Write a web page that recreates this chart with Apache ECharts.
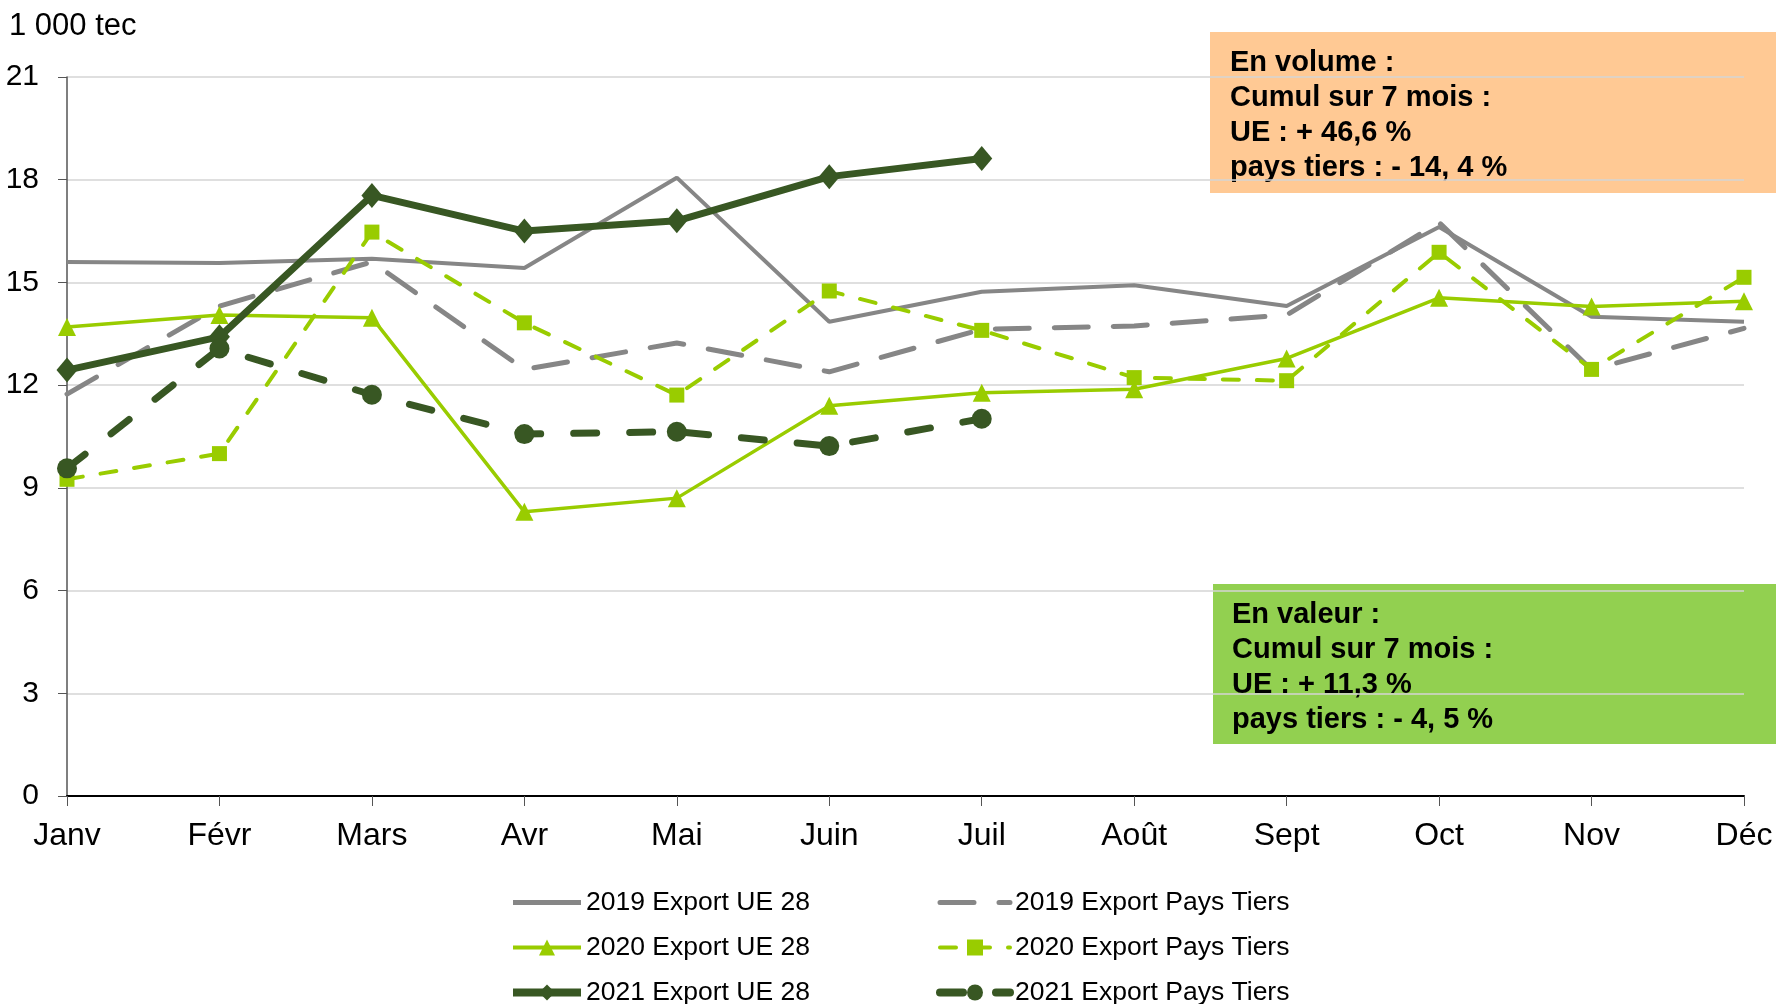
<!DOCTYPE html>
<html>
<head>
<meta charset="utf-8">
<title>Exports</title>
<script src="https://cdn.jsdelivr.net/npm/echarts/dist/echarts.min.js"></script>
<style>
  html, body { margin: 0; padding: 0; background: #fff; }
  #chart { width: 1776px; height: 1004px; }
</style>
</head>
<body>
<div id="chart"></div>
<script>
// months on the x axis
const months = ['Janv', 'Févr', 'Mars', 'Avr', 'Mai', 'Juin', 'Juil', 'Août', 'Sept', 'Oct', 'Nov', 'Déc']

// values in 1 000 tec
const ue2019 = [15.6, 15.57, 15.69, 15.42, 18.06, 13.85, 14.73, 14.92, 14.31, 16.62, 14.0, 13.85]
const pt2019 = [11.74, 14.31, 15.6, 12.46, 13.23, 12.39, 13.63, 13.73, 14.05, 16.75, 12.45, 13.66]
const ue2020 = [13.7, 14.05, 13.97, 8.3, 8.7, 11.4, 11.78, 11.88, 12.78, 14.55, 14.3, 14.45]
const pt2020 = [9.25, 10.0, 16.47, 13.82, 11.71, 14.75, 13.6, 12.22, 12.13, 15.88, 12.46, 15.15]
const ue2021 = [12.44, 13.41, 17.54, 16.5, 16.8, 18.09, 18.62, null, null, null, null, null]
const pt2021 = [9.57, 13.07, 11.72, 10.57, 10.64, 10.22, 11.02, null, null, null, null, null]

const yTicks = { min: 0, max: 21, interval: 3 }

const volumeLines = ['En volume :', 'Cumul sur 7 mois :', 'UE : + 46,6 %', 'pays tiers : - 14, 4 %']
const valueLines = ['En valeur :', 'Cumul sur 7 mois :', 'UE : + 11,3 %', 'pays tiers : - 4, 5 %']

const GREY = '#868686'
const LIGHT = '#99CC00'
const DARK = '#385723'
const FONT = 'Liberation Sans, Arial, sans-serif'

const chart = echarts.init(document.getElementById('chart'))

const legendText = { fontSize: 26.5, color: '#000', fontFamily: FONT }
// thicker legend lines, and no marker for the 2019 lines
const legendItem = (name, width, noSymbol) => ({
  name: name,
  lineStyle: { width: width },
  itemStyle: noSymbol ? { opacity: 0 } : {}
})

const option = {
  animation: false,
  textStyle: { fontFamily: FONT, color: '#000' },
  grid: { left: 67, right: 32, top: 77, bottom: 208, containLabel: false, outerBoundsMode: 'none' },
  legend: [
    {
      orient: 'vertical',
      left: 504,
      top: 884,
      height: 200,
      itemWidth: 68,
      itemHeight: 20,
      itemGap: 18,
      textStyle: legendText,
      data: [
        legendItem('2019 Export UE 28', 5, true),
        legendItem('2020 Export UE 28', 4),
        legendItem('2021 Export UE 28', 8)
      ]
    },
    {
      orient: 'vertical',
      left: 931,
      top: 884,
      height: 200,
      itemWidth: 70,
      itemHeight: 20,
      itemGap: 18,
      textStyle: legendText,
      data: [
        legendItem('2019 Export Pays Tiers', 5, true),
        legendItem('2020 Export Pays Tiers', 4),
        legendItem('2021 Export Pays Tiers', 8)
      ]
    }
  ],
  xAxis: {
    type: 'category',
    data: months,
    boundaryGap: false,
    axisLine: { lineStyle: { color: '#000', width: 2 } },
    axisTick: { show: true, length: 10, lineStyle: { color: '#555' } },
    axisLabel: { fontSize: 32, color: '#000', margin: 24, interval: 0 },
    splitLine: { show: false }
  },
  yAxis: {
    type: 'value',
    min: yTicks.min,
    max: yTicks.max,
    interval: yTicks.interval,
    name: '1 000 tec',
    nameLocation: 'end',
    nameGap: 35,
    nameTextStyle: { fontSize: 31, color: '#000', align: 'left', padding: [0, 0, 0, -58] },
    axisLine: { show: true, lineStyle: { color: '#555', width: 1.5 } },
    axisTick: { show: true, length: 9, lineStyle: { color: '#555' } },
    axisLabel: { fontSize: 30, color: '#000', margin: 28 },
    splitLine: { lineStyle: { color: '#D4D4D4', width: 1.5 } }
  },
  series: [
    {
      name: '2019 Export UE 28',
      type: 'line',
      data: ue2019,
      symbol: 'none',
      lineStyle: { color: GREY, width: 4 },
      itemStyle: { color: GREY }
    },
    {
      name: '2019 Export Pays Tiers',
      type: 'line',
      data: pt2019,
      symbol: 'none',
      lineStyle: { color: GREY, width: 5, type: [34, 25], cap: 'round' },
      itemStyle: { color: GREY }
    },
    {
      name: '2020 Export UE 28',
      type: 'line',
      data: ue2020,
      symbol: 'triangle',
      symbolSize: 18,
      lineStyle: { color: LIGHT, width: 3.5 },
      itemStyle: { color: LIGHT }
    },
    {
      name: '2020 Export Pays Tiers',
      type: 'line',
      data: pt2020,
      symbol: 'rect',
      symbolSize: 15,
      lineStyle: { color: LIGHT, width: 4, type: [16, 18], cap: 'round' },
      itemStyle: { color: LIGHT }
    },
    {
      name: '2021 Export UE 28',
      type: 'line',
      data: ue2021,
      symbol: 'diamond',
      symbolSize: [21, 25],
      lineStyle: { color: DARK, width: 7 },
      itemStyle: { color: DARK }
    },
    {
      name: '2021 Export Pays Tiers',
      type: 'line',
      data: pt2021,
      symbol: 'circle',
      symbolSize: 20,
      lineStyle: { color: DARK, width: 7, type: [23, 33], cap: 'round' },
      itemStyle: { color: DARK }
    }
  ],
  graphic: [
    {
      type: 'group',
      left: 1210,
      top: 32,
      children: [
        { type: 'rect', shape: { x: 0, y: 0, width: 566, height: 161 }, style: { fill: '#FFC994' } },
        {
          type: 'text', x: 20, y: 13,
          style: { text: volumeLines.join('\n'), fontSize: 29, fontWeight: 'bold', fontFamily: FONT, lineHeight: 35, fill: '#000' }
        }
      ]
    },
    {
      type: 'group',
      left: 1213,
      top: 584,
      children: [
        { type: 'rect', shape: { x: 0, y: 0, width: 563, height: 160 }, style: { fill: '#92D050' } },
        {
          type: 'text', x: 19, y: 13,
          style: { text: valueLines.join('\n'), fontSize: 29, fontWeight: 'bold', fontFamily: FONT, lineHeight: 35, fill: '#000' }
        }
      ]
    }
  ]
}

chart.setOption(option)
</script>
</body>
</html>
